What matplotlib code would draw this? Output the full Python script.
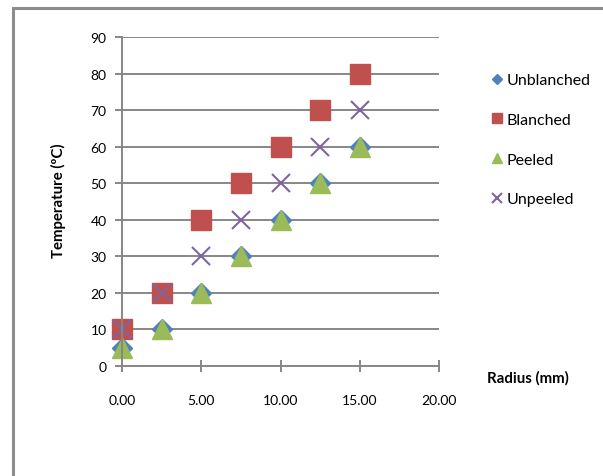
import matplotlib.pyplot as plt
from matplotlib.patches import Rectangle

radius = [0.0, 2.5, 5.0, 7.5, 10.0, 12.5, 15.0]
unblanched = [5, 10, 20, 30, 40, 50, 60]
blanched = [10, 20, 40, 50, 60, 70, 80]
peeled = [5, 10, 20, 30, 40, 50, 60]
unpeeled = [10, 20, 30, 40, 50, 60, 70]

plt.rcParams['font.family'] = ['Lato', 'DejaVu Sans']
plt.rcParams['font.size'] = 10

grey = '#878787'

fig = plt.figure(figsize=(6.03, 4.77), dpi=100)
# chart border running off the right and bottom edges
fig.patches.append(Rectangle((13 / 603, -0.1), 1.0, 1 - 9 / 477 + 0.1,
                             transform=fig.transFigure, fill=False,
                             edgecolor='#8c8c8c', linewidth=2.2))

ax = fig.add_axes([122 / 603, 1 - 367 / 477, (439 - 122) / 603, (367 - 38) / 477])

ax.plot(radius, unblanched, linestyle='none', marker='D', markersize=10,
        color='#4F81BD', label='Unblanched')
ax.plot(radius, blanched, linestyle='none', marker='s', markersize=14,
        color='#C0504D', label='Blanched')
ax.plot(radius, peeled, linestyle='none', marker='^', markersize=15,
        color='#9BBB59', label='Peeled')
ax.plot(radius, unpeeled, linestyle='none', marker='x', markersize=13,
        markeredgewidth=1.5, color='#8064A2', label='Unpeeled')

ax.set_xlim(0, 20)
ax.set_ylim(0, 90)
ax.set_xticks([0, 5, 10, 15, 20])
ax.set_xticklabels(['0.00', '5.00', '10.00', '15.00', '20.00'])
ax.set_yticks(range(0, 100, 10))

ax.grid(axis='y', color=grey, linewidth=1.4)
ax.set_axisbelow(True)
for side in ['top', 'right']:
    ax.spines[side].set_visible(False)
ax.spines['left'].set_color(grey)
ax.spines['bottom'].set_color(grey)
ax.spines['left'].set_linewidth(1.4)
ax.spines['bottom'].set_linewidth(1.4)
ax.tick_params(axis='x', direction='inout', length=8, width=1.4, color=grey, pad=16)
ax.tick_params(axis='y', direction='out', length=5, width=1.4, color=grey, pad=6)
for m in ax.lines:
    m.set_clip_on(False)

fig.text(58 / 603, 1 - 201 / 477, 'Temperature (ºC)', rotation=90,
         fontweight='bold', ha='center', va='center', fontsize=10.8)
fig.text(528 / 603, 1 - 378 / 477, 'Radius (mm)', fontweight='bold',
         ha='center', va='center', fontsize=10.8)

fig.legend(loc='upper left', bbox_to_anchor=(482 / 603, 1 - 66 / 477),
           frameon=False, markerscale=0.5, handlelength=0.9, handletextpad=0.15,
           labelspacing=1.6, borderpad=0, fontsize=11.5)

fig.savefig('out.png', dpi=100)
